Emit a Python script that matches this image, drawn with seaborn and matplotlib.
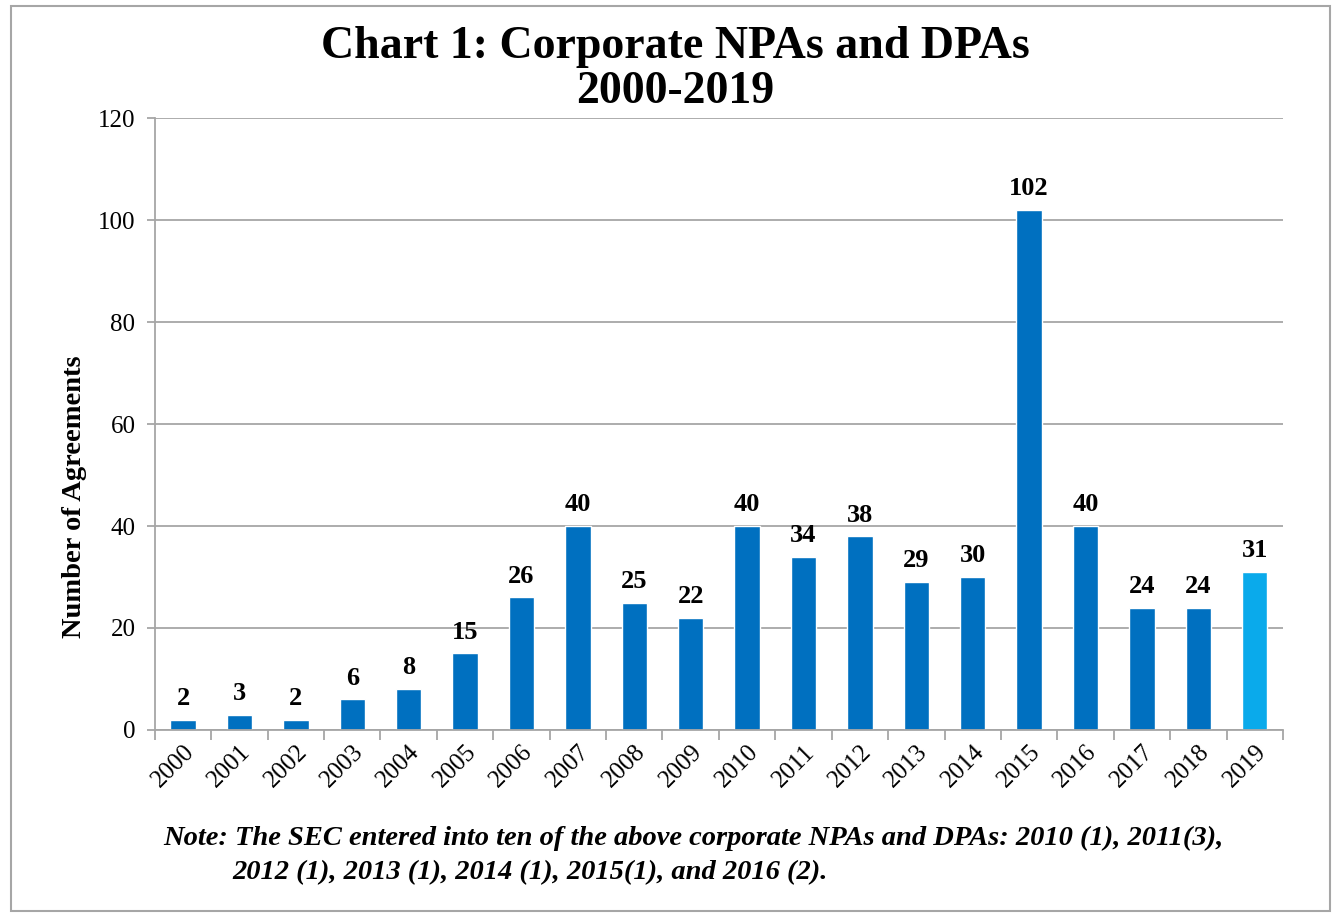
import matplotlib.pyplot as plt
import matplotlib.patches as mpatches
import seaborn as sns
import pandas as pd

years = [str(y) for y in range(2000, 2020)]
counts = [2, 3, 2, 6, 8, 15, 26, 40, 25, 22, 40, 34, 38, 29, 30, 102, 40, 24, 24, 31]
yticks = [0, 20, 40, 60, 80, 100, 120]

title = "Chart 1: Corporate NPAs and DPAs\n2000-2019"
ylabel = "Number of Agreements"
note1 = "Note: The SEC entered into ten of the above corporate NPAs and DPAs: 2010 (1), 2011(3),"
note2 = "2012 (1), 2013 (1), 2014 (1), 2015(1), and 2016 (2)."

sns.set_style("white")
plt.rcParams['font.family'] = ['Liberation Serif', 'DejaVu Serif']
plt.rcParams['text.color'] = 'black'
plt.rcParams['xtick.labelcolor'] = 'black'
plt.rcParams['ytick.labelcolor'] = 'black'

df = pd.DataFrame({'year': years, 'count': counts})
colors = {y: '#0070C0' for y in years}
colors['2019'] = '#0AAAEB'

fig = plt.figure(figsize=(13.35, 9.17), dpi=100)
ax = fig.add_axes([0.116, 0.204, 0.845, 0.667])

sns.barplot(data=df, x='year', y='count', hue='year', palette=colors,
            legend=False, width=0.45, ax=ax, saturation=1)

ax.set_ylim(0, 120)
ax.set_xlim(-0.5, len(years) - 0.5)
ax.set_yticks(yticks)
ax.yaxis.grid(True, color='#A6A6A6', lw=1.3)
ax.set_axisbelow(True)
for s in ['top', 'right']:
    ax.spines[s].set_visible(False)
for s in ['left', 'bottom']:
    ax.spines[s].set_color('#A6A6A6')
    ax.spines[s].set_linewidth(1.3)

ax.set_xlabel('')
ax.set_ylabel('')
ax.tick_params(axis='y', labelsize=18, length=6, color='#A6A6A6', width=1.3, left=True, pad=8)
ax.tick_params(axis='x', which='major', length=0, labelsize=18, pad=8)
ax.set_xticks([i - 0.5 for i in range(len(years) + 1)], minor=True)
ax.tick_params(axis='x', which='minor', length=7, color='#A6A6A6', width=1.3, bottom=True)
plt.setp(ax.get_xticklabels(), rotation=45, ha='right', rotation_mode='anchor')

for i, c in enumerate(counts):
    ax.annotate(str(c), (i, c), xytext=(0, 7), textcoords='offset points',
                ha='center', va='bottom', fontsize=19, fontweight='bold')

fig.text(0.506, 0.972, title, ha='center', va='top', fontsize=33,
         fontweight='bold', linespacing=1.1)
fig.text(0.056, 0.458, ylabel, rotation=90, ha='center', va='center',
         fontsize=20.5, fontweight='bold')
fig.text(0.122, 0.086, note1, ha='left', va='center', fontsize=20.5,
         fontweight='bold', style='italic')
fig.text(0.174, 0.048, note2, ha='left', va='center', fontsize=20.5,
         fontweight='bold', style='italic')

fig.patches.append(mpatches.Rectangle((0.008, 0.006), 0.988, 0.988, transform=fig.transFigure,
                                      fill=False, edgecolor='#A6A6A6', lw=1.5))

fig.savefig('out.png', dpi=100)
